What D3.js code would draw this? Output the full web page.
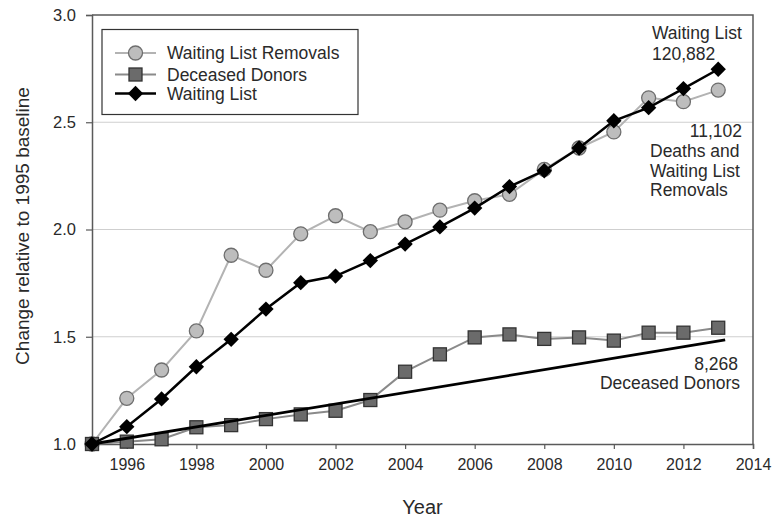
<!DOCTYPE html>
<html>
<head>
<meta charset="utf-8">
<script src="https://cdn.jsdelivr.net/npm/d3@7/dist/d3.min.js"></script>
<style>
  html, body { margin: 0; padding: 0; background: #fff; }
  svg { display: block; font-family: "Liberation Sans", Arial, sans-serif; }
</style>
</head>
<body>
<svg id="chart" width="776" height="519"></svg>
<script>
// Yearly values, relative to the 1995 baseline
const years = [1995, 1996, 1997, 1998, 1999, 2000, 2001, 2002, 2003, 2004,
               2005, 2006, 2007, 2008, 2009, 2010, 2011, 2012, 2013];
const waitingListRemovals = [1.0, 1.213, 1.345, 1.527, 1.88, 1.81, 1.98, 2.064, 1.99, 2.036,
                             2.09, 2.134, 2.164, 2.28, 2.38, 2.455, 2.614, 2.596, 2.65];
const deceasedDonors = [1.0, 1.011, 1.022, 1.078, 1.088, 1.116, 1.138, 1.155, 1.205, 1.337,
                        1.418, 1.497, 1.511, 1.49, 1.497, 1.482, 1.519, 1.519, 1.542];
const waitingList = [1.0, 1.081, 1.21, 1.36, 1.488, 1.629, 1.752, 1.783, 1.855, 1.932,
                     2.012, 2.10, 2.20, 2.274, 2.38, 2.507, 2.568, 2.657, 2.747];
// Linear trend for deceased donors (start and end)
const donorTrendYears = [1995, 2013.2];
const donorTrendValues = [1.0, 1.485];

const xTicks = [1996, 1998, 2000, 2002, 2004, 2006, 2008, 2010, 2012, 2014];
const yTicks = [1.0, 1.5, 2.0, 2.5, 3.0];
const gridValues = [1.5, 2.0, 2.5];

const seriesNames = ["Waiting List Removals", "Deceased Donors", "Waiting List"];

const svg = d3.select("#chart");
const plot = { left: 92, right: 753, top: 15, bottom: 444 };

const x = d3.scaleLinear().domain([1995, 2014]).range([plot.left, plot.right]);
const y = d3.scaleLinear().domain([1.0, 3.0]).range([plot.bottom, plot.top]);

const textColor = "#2a2a2a";
const axisColor = "#5a5a5a";
const fontFamily = "'Liberation Sans', Arial, sans-serif";

// Gridlines
svg.append("g").selectAll("line").data(gridValues).join("line")
  .attr("x1", plot.left).attr("x2", plot.right)
  .attr("y1", d => y(d)).attr("y2", d => y(d))
  .attr("stroke", "#cfcfcf").attr("stroke-width", 1.2);

// Frame (top and right)
svg.append("path")
  .attr("d", `M${plot.left},${plot.top}H${plot.right}V${plot.bottom}`)
  .attr("fill", "none").attr("stroke", axisColor).attr("stroke-width", 1.5);

// Y axis
const yAxis = svg.append("g")
  .attr("transform", `translate(${plot.left},0)`)
  .call(d3.axisLeft(y).tickValues(yTicks).tickFormat(d3.format(".1f")).tickSize(6).tickPadding(10));
yAxis.select(".domain").attr("stroke", axisColor).attr("stroke-width", 1.5);
yAxis.selectAll(".tick line").attr("stroke", axisColor).attr("stroke-width", 1.2);
yAxis.selectAll(".tick text").attr("font-size", 16.5).attr("fill", textColor)
  .attr("font-family", fontFamily);

// X axis
const xAxis = svg.append("g")
  .attr("transform", `translate(0,${plot.bottom})`)
  .call(d3.axisBottom(x).tickValues(xTicks).tickFormat(d3.format("d")).tickSize(5).tickPadding(10));
xAxis.select(".domain").attr("stroke", axisColor).attr("stroke-width", 1.5);
xAxis.selectAll(".tick line").attr("stroke", axisColor).attr("stroke-width", 1.2);
xAxis.selectAll(".tick text").attr("font-size", 16).attr("fill", textColor)
  .attr("font-family", fontFamily);

// Axis titles
svg.append("text")
  .attr("x", (plot.left + plot.right) / 2).attr("y", 514)
  .attr("text-anchor", "middle").attr("font-size", 20).attr("fill", textColor)
  .text("Year");
svg.append("text")
  .attr("transform", "translate(29,226) rotate(-90)")
  .attr("text-anchor", "middle").attr("font-size", 19).attr("fill", textColor)
  .text("Change relative to 1995 baseline");

const line = d3.line().x(d => x(d[0])).y(d => y(d[1]));
const zip = (a, b) => a.map((v, i) => [v, b[i]]);

const styles = {
  removals: { line: "#b3b3b3", lw: 2, fill: "#bdbdbd", stroke: "#6e6e6e" },
  donors:   { line: "#8a8a8a", lw: 2, fill: "#6b6b6b", stroke: "#333" },
  waiting:  { line: "#000", lw: 2.5, fill: "#000", stroke: "#000" }
};

function drawMarker(g, kind, cx, cy) {
  if (kind === "removals") {
    g.append("circle").attr("cx", cx).attr("cy", cy).attr("r", 7)
      .attr("fill", styles.removals.fill).attr("stroke", styles.removals.stroke).attr("stroke-width", 1.3);
  } else if (kind === "donors") {
    g.append("rect").attr("x", cx - 6.5).attr("y", cy - 6.5).attr("width", 13).attr("height", 13)
      .attr("fill", styles.donors.fill).attr("stroke", styles.donors.stroke).attr("stroke-width", 1.3);
  } else {
    g.append("path").attr("d", d3.symbol(d3.symbolDiamond2, 150)())
      .attr("transform", `translate(${cx},${cy})`)
      .attr("fill", styles.waiting.fill);
  }
}

function drawSeries(kind, values) {
  const pts = zip(years, values);
  const g = svg.append("g");
  g.append("path").datum(pts).attr("d", line)
    .attr("fill", "none").attr("stroke", styles[kind].line).attr("stroke-width", styles[kind].lw);
  pts.forEach(p => drawMarker(g, kind, x(p[0]), y(p[1])));
}

drawSeries("removals", waitingListRemovals);
drawSeries("donors", deceasedDonors);

// Donor trend line
svg.append("path").datum(zip(donorTrendYears, donorTrendValues)).attr("d", line)
  .attr("fill", "none").attr("stroke", "#000").attr("stroke-width", 2.8);

drawSeries("waiting", waitingList);

// Legend
const legend = svg.append("g");
legend.append("rect").attr("x", 102).attr("y", 29.5).attr("width", 256).attr("height", 85)
  .attr("fill", "#fff").attr("stroke", "#333").attr("stroke-width", 1.2);
const kinds = ["removals", "donors", "waiting"];
const rowY = [53, 74.5, 93.5];
kinds.forEach((k, i) => {
  legend.append("line").attr("x1", 115).attr("x2", 156).attr("y1", rowY[i]).attr("y2", rowY[i])
    .attr("stroke", styles[k].line).attr("stroke-width", styles[k].lw);
  drawMarker(legend, k, 135.5, rowY[i]);
  legend.append("text").attr("x", 167).attr("y", rowY[i] + 6)
    .attr("font-size", 17.5).attr("fill", textColor).text(seriesNames[i]);
});

// End-of-series annotations
const notes = [
  { t: "Waiting List", x: 652, y: 39, a: "start" },
  { t: "120,882", x: 652, y: 60, a: "start" },
  { t: "11,102", x: 742, y: 137, a: "end" },
  { t: "Deaths and", x: 650, y: 157, a: "start" },
  { t: "Waiting List", x: 650, y: 177, a: "start" },
  { t: "Removals", x: 650, y: 196, a: "start" },
  { t: "8,268", x: 738, y: 370, a: "end" },
  { t: "Deceased Donors", x: 740, y: 389, a: "end" }
];
svg.append("g").selectAll("text").data(notes).join("text")
  .attr("x", d => d.x).attr("y", d => d.y).attr("text-anchor", d => d.a)
  .attr("font-size", 17.5).attr("fill", textColor).text(d => d.t);
</script>
</body>
</html>
